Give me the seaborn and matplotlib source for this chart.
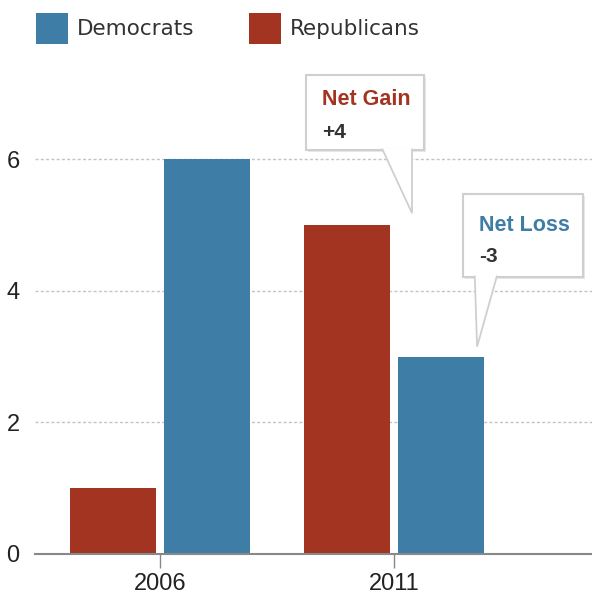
import pandas as pd
import seaborn as sns
import matplotlib.pyplot as plt
import matplotlib.patheffects as pe
from matplotlib.patches import Patch, Rectangle, Polygon

# data
years = ['2006', '2006', '2011', '2011']
parties = ['Republicans', 'Democrats', 'Republicans', 'Democrats']
seats = [1, 6, 5, 3]
legend_order = ['Democrats', 'Republicans']
colors = {'Democrats': '#3e7ea6', 'Republicans': '#a33422'}

df = pd.DataFrame({'Year': years, 'Party': parties, 'Seats': seats})

sns.set_theme(style='white')
plt.rcParams['font.family'] = ['Liberation Sans', 'DejaVu Sans']

fig = plt.figure(figsize=(5.92, 6.0), dpi=100)
ax = fig.add_axes([35 / 592, 46 / 600, 557 / 592, 493.5 / 600])

sns.barplot(data=df, x='Year', y='Seats', hue='Party',
            hue_order=['Republicans', 'Democrats'], palette=colors,
            width=0.8, gap=0.085, saturation=1, linewidth=0,
            legend=False, ax=ax)

ax.set_xlim(-0.534, 1.846)
ax.set_ylim(0, 7.5)
ax.set_yticks([0, 2, 4, 6])
ax.set_xlabel('')
ax.set_ylabel('')

ax.set_axisbelow(True)
ax.yaxis.grid(True, color='#c4c4c4', linestyle=(0, (2.2, 1.6)), linewidth=1)
ax.xaxis.grid(False)
for s in ['top', 'right', 'left']:
    ax.spines[s].set_visible(False)
ax.spines['bottom'].set_color('#888888')
ax.spines['bottom'].set_linewidth(1.5)

ax.tick_params(axis='x', bottom=True, length=10, width=1, color='#888888',
               pad=4, labelsize=17, labelcolor='#222222')
ax.tick_params(axis='y', left=False, pad=5, labelsize=17, labelcolor='#222222')

# legend on top
handles = [Patch(facecolor=colors[p], edgecolor='none') for p in legend_order]
fig.legend(handles, legend_order, loc='upper left',
           bbox_to_anchor=(36 / 592, 1 - 13 / 600), ncol=2, frameon=False,
           borderpad=0, borderaxespad=0, handlelength=1.5, handleheight=1.85,
           handletextpad=0.42, columnspacing=2.5,
           prop={'family': 'DejaVu Sans', 'size': 15.5}, labelcolor='#333333')

# callouts: box corners, pointer (left base, tip, right base), text anchors
callouts = [
    dict(title='Net Gain', value='+4', color=colors['Republicans'],
         box=(0.624, 6.14, 0.504, 1.14),
         pointer=[(1.034 - 0.085, 6.16), (1.077, 5.18), (1.077, 6.16)],
         tx=0.692, ty=(6.824, 6.32)),
    dict(title='Net Loss', value='-3', color=colors['Democrats'],
         box=(1.295, 4.21, 0.513, 1.26),
         pointer=[(1.35 - 0.005, 4.23), (1.355, 3.15), (1.44, 4.23)],
         tx=1.363, ty=(4.909, 4.438)),
]
shadow = [pe.SimplePatchShadow(offset=(1.5, -1.5), alpha=0.12), pe.Normal()]
for c in callouts:
    x0, y0, w, h = c['box']
    ax.add_patch(Rectangle((x0, y0), w, h, fc='white', ec='#cfcfcf', lw=1.5,
                           zorder=4, clip_on=False, path_effects=shadow))
    ax.add_patch(Polygon(c['pointer'], closed=False, fc='white', ec='#cfcfcf',
                         lw=1.3, zorder=4.5, clip_on=False))
    ax.text(c['tx'], c['ty'][0], c['title'], color=c['color'], fontsize=15.5,
            fontweight='bold', ha='left', va='baseline', zorder=6)
    ax.text(c['tx'], c['ty'][1], c['value'], color='#333333', fontsize=15,
            fontweight='bold', ha='left', va='baseline', zorder=6)

fig.savefig('out.png', dpi=100)
